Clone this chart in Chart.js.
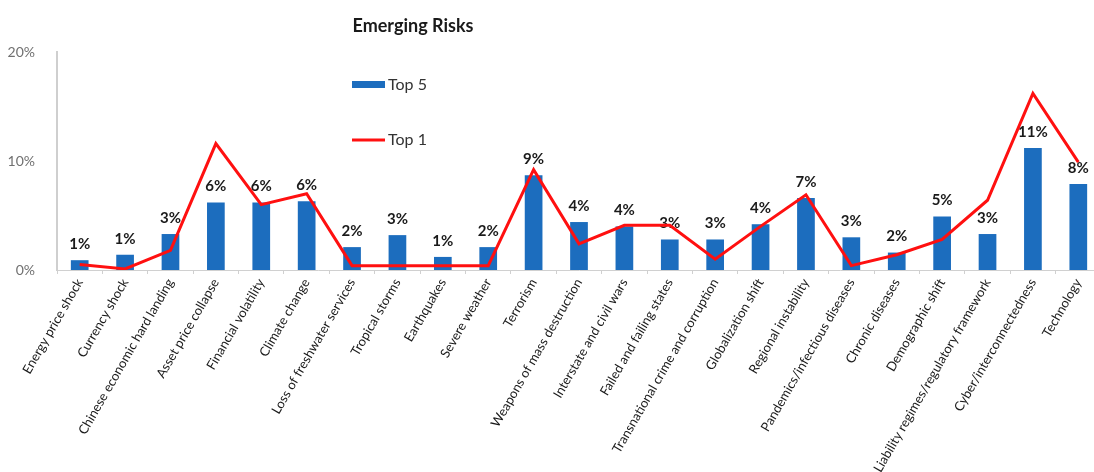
<!DOCTYPE html>
<html>
<head>
<meta charset="utf-8">
<script src="https://cdn.jsdelivr.net/npm/chart.js@4.4.1/dist/chart.umd.min.js"></script>
<style>
  html, body { margin: 0; padding: 0; background: #fff; overflow: hidden; }
  #wrap { width: 1102px; height: 472px; }
</style>
</head>
<body>
<div id="wrap"><canvas id="c" width="1102" height="472"></canvas></div>
<script>
const categories = [
  "Energy price shock", "Currency shock", "Chinese economic hard landing", "Asset price collapse",
  "Financial volatility", "Climate change", "Loss of freshwater services", "Tropical storms",
  "Earthquakes", "Severe weather", "Terrorism", "Weapons of mass destruction",
  "Interstate and civil wars", "Failed and failing states", "Transnational crime and corruption",
  "Globalization shift", "Regional instability", "Pandemics/infectious diseases", "Chronic diseases",
  "Demographic shift", "Liability regimes/regulatory framework", "Cyber/interconnectedness", "Technology"
];
const top5 = [0.9, 1.4, 3.3, 6.2, 6.2, 6.3, 2.1, 3.2, 1.2, 2.1, 8.7, 4.4, 4.0, 2.8, 2.8, 4.2, 6.6, 3.0, 1.6, 4.9, 3.3, 11.2, 7.9];
const top1 = [0.5, 0.1, 1.8, 11.6, 6.0, 7.0, 0.4, 0.4, 0.4, 0.4, 9.2, 2.4, 4.1, 4.1, 1.0, 4.0, 6.9, 0.4, 1.4, 2.8, 6.4, 16.2, 9.9];
const yTicks = [0, 10, 20];
const titleText = "Emerging Risks";

const FONT = "Lato, 'Open Sans', sans-serif";

const overlay = {
  id: 'overlay',
  afterDatasetDraw(chart, args) {
    if (args.index !== 0) return;
    const ctx = chart.ctx;
    const meta = chart.getDatasetMeta(0);
    ctx.save();
    ctx.font = "bold 15px " + FONT;
    ctx.fillStyle = "#1a1a1a";
    ctx.textAlign = "center";
    ctx.textBaseline = "middle";
    meta.data.forEach((bar, i) => {
      const v = chart.data.datasets[0].data[i];
      ctx.fillText(Math.round(v) + "%", bar.x, bar.y - 16);
    });
    ctx.restore();
  },
  afterDraw(chart) {
    const ctx = chart.ctx;
    ctx.save();
    ctx.font = "bold 18px " + FONT;
    ctx.fillStyle = "#1a1a1a";
    ctx.textAlign = "center";
    ctx.textBaseline = "middle";
    ctx.fillText(titleText, 413, 26);
    // legend
    const ds = chart.data.datasets;
    ctx.font = "16px " + FONT;
    ctx.textAlign = "left";
    ctx.fillStyle = ds[0].backgroundColor;
    ctx.fillRect(352, 81, 33, 7);
    ctx.fillStyle = "#333";
    ctx.fillText(ds[0].label, 388, 85);
    ctx.strokeStyle = ds[1].borderColor;
    ctx.lineWidth = 3;
    ctx.beginPath();
    ctx.moveTo(352, 140);
    ctx.lineTo(385, 140);
    ctx.stroke();
    ctx.fillStyle = "#333";
    ctx.fillText(ds[1].label, 388, 140);
    ctx.restore();
  }
};

new Chart(document.getElementById('c'), {
  data: {
    labels: categories,
    datasets: [
      {
        type: 'bar', label: 'Top 5', data: top5,
        backgroundColor: '#1C6DBE', borderWidth: 0,
        categoryPercentage: 1, barPercentage: 0.39, order: 1
      },
      {
        type: 'line', label: 'Top 1', data: top1,
        borderColor: '#FF1010', borderWidth: 3, pointRadius: 0,
        tension: 0, fill: false, order: 0
      }
    ]
  },
  options: {
    responsive: false,
    animation: false,
    layout: { padding: { top: 52, right: 1, left: 0, bottom: 0 } },
    plugins: { legend: { display: false }, title: { display: false }, tooltip: { enabled: false } },
    scales: {
      x: {
        offset: true,
        grid: { display: true, drawOnChartArea: false, drawTicks: true, tickLength: 4, color: '#d0d0d0', offset: true },
        border: { display: true, color: '#d0d0d0', width: 1 },
        ticks: {
          autoSkip: false, maxRotation: 60, minRotation: 60,
          color: '#1a1a1a', font: { family: FONT, size: 13 }, padding: 2
        },
        afterFit(scale) { scale.height = 202; }
      },
      y: {
        min: 0, max: 20,
        afterBuildTicks(scale) { scale.ticks = yTicks.map(v => ({ value: v })); },
        grid: { display: false },
        border: { display: true, color: '#cfcfcf', width: 2 },
        ticks: {
          color: '#707070', font: { family: FONT, size: 14 }, padding: 14,
          callback: v => v + '%'
        },
        afterFit(scale) { scale.width = 57; }
      }
    }
  },
  plugins: [overlay]
});
</script>
</body>
</html>
